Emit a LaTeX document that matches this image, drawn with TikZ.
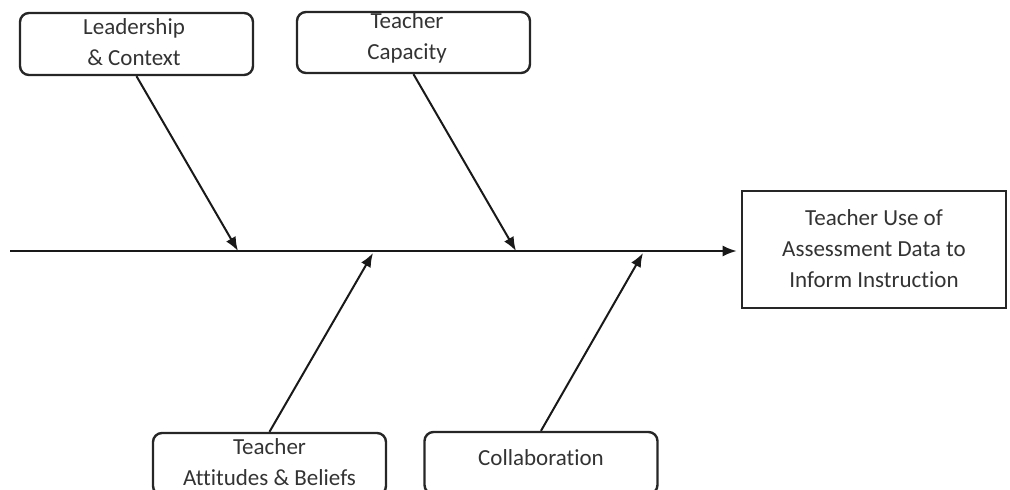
\documentclass[tikz,border=0pt]{standalone}
\usepackage{fontspec}
\setmainfont{Carlito}[Ligatures=NoCommon]
\usetikzlibrary{arrows.meta}
\tikzset{
    causebox/.style={draw=black!85,line width=2.4pt,rounded corners=9pt,minimum width=233pt,inner sep=0pt},
    effectbox/.style={draw=black!85,line width=2.6pt,minimum width=264pt,minimum height=117pt,inner sep=0pt},
    boxtext/.style={text=black!80,align=center,font=\fontsize{23}{31}\selectfont,inner sep=0pt},
    bone/.style={draw=black!90,line width=2pt,-{Latex[length=14pt,width=11pt]}}
}
\begin{document}
\begin{tikzpicture}[x=1pt,y=-1pt]
    \useasboundingbox (0,0) rectangle (1010,490);
    % boxes
    \node[causebox,minimum height=62pt] (lead) at (136.5,44) {};
    \node[causebox,minimum height=61pt] (cap) at (413.5,42.5) {};
    \node[causebox,minimum height=62pt] (att) at (269.5,464) {};
    \node[causebox,minimum height=62pt] (coll) at (541,463) {};
    \node[effectbox] (effect) at (874,249.5) {};
    % texts
    \node[boxtext] (leadtext) at (134,42.5) {Leadership\\\& Context};
    \node[boxtext] (captext) at (407,37.5) {Teacher\\Capacity};
    \node[boxtext] (atttext) at (269.5,462.5) {Teacher\\Attitudes \& Beliefs};
    \node[boxtext] (colltext) at (541,457.5) {Collaboration};
    \node[boxtext] (effecttext) at (874,249) {Teacher Use of\\Assessment Data to\\Inform Instruction};
    % spine
    \coordinate (start) at (10,251);
    \draw[bone] (start) -- ([xshift=-4pt]effect.west |- start);
    % bones
    \coordinate (leadend) at (238,251);
    \coordinate (capend) at (516,251);
    \coordinate (attend) at (373,253);
    \coordinate (collend) at (643,253);
    \draw[bone] (lead.south) -- (leadend);
    \draw[bone] (cap.south) -- (capend);
    \draw[bone] (att.north) -- (attend);
    \draw[bone] (coll.north) -- (collend);
\end{tikzpicture}
\end{document}
